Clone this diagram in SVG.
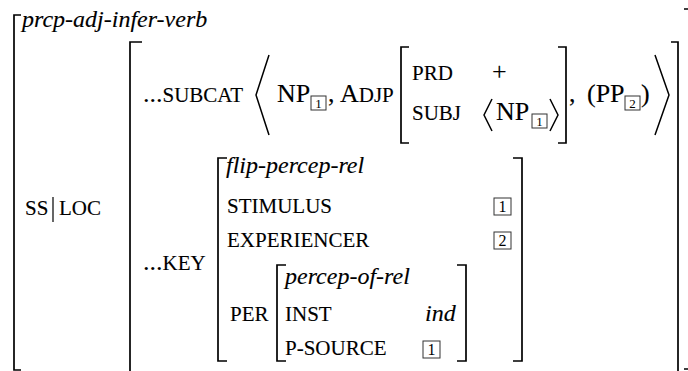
<svg xmlns="http://www.w3.org/2000/svg" width="688" height="371" viewBox="0 0 688 371">
<style>
text,tspan{font-family:"Liberation Serif","Times New Roman",serif;fill:#000;stroke:#000;stroke-width:0.12}
.rm{font-family:"Liberation Serif",serif;font-size:26px}
.sc{font-family:"Liberation Serif",serif;font-size:21px}
.it{font-family:"Liberation Serif",serif;font-size:24px;font-style:italic}
.br{fill:none;stroke:#000;stroke-width:1.7}
.ang{fill:none;stroke:#000;stroke-width:1.5;stroke-linejoin:miter}
.box{fill:none;stroke:#333;stroke-width:1}
.d{font-family:"Liberation Serif",serif;font-size:13px;text-anchor:middle;stroke-width:0}
.dl{font-family:"Liberation Serif",serif;font-size:16px;text-anchor:middle;stroke-width:0}
</style>
<g id="connectors">
<path class="br" d="M21,15 H14 V370 H21"/>
<path class="br" d="M684,9 H689.5 V369 H684"/>
</g>
<g id="root">
<text class="it" x="22" y="27">prcp-adj-infer-verb</text>
</g>
<g id="sslocLabel">
<text class="sc" x="25" y="215">SS</text>
<line x1="53" y1="197" x2="53" y2="222" stroke="#000" stroke-width="1.2"/>
<text class="sc" x="59" y="215">LOC</text>
</g>
<g id="loc">
<path class="br" d="M142,42 H130 V372"/>
<path class="br" d="M671,42 H678 V372"/>
</g>
<g id="subcat">
<text class="rm" x="143" y="102">...<tspan class="sc">SUBCAT</tspan></text>
<polyline class="ang" points="269,55 256,95 269,135"/>
<text class="rm" x="277" y="102">NP</text>
<rect class="box" x="311" y="96" width="15" height="14"/>
<text class="d" x="318.5" y="108">1</text>
<text class="rm" x="328" y="102">,</text>
<text class="rm" x="340" y="102">A<tspan class="sc">DJP</tspan></text>
<polyline class="ang" points="655,55 669,95 655,135"/>
<text class="rm" x="569" y="102">,</text>
<text class="rm" x="587" y="102">(PP</text>
<rect class="box" x="625" y="96" width="15" height="14"/>
<text class="d" x="632.5" y="108">2</text>
<text class="rm" x="641" y="102">)</text>
</g>
<g id="adjp">
<path class="br" d="M409,47 H401 V143 H409"/>
<path class="br" d="M558,47 H566 V143 H558"/>
<text class="sc" x="412" y="80">PRD</text>
<text class="rm" x="492" y="80">+</text>
<text class="sc" x="412" y="120">SUBJ</text>
<polyline class="ang" points="492,99 484,115 492,131"/>
<text class="rm" x="496" y="120">NP</text>
<rect class="box" x="532" y="114" width="15" height="14"/>
<text class="d" x="539.5" y="126">1</text>
<polyline class="ang" points="550,99 558,115 550,131"/>
</g>
<g id="keyLabel">
<text class="rm" x="143" y="270">...<tspan class="sc">KEY</tspan></text>
</g>
<g id="flipPercepRel">
<path class="br" d="M227,158 H218 V361 H227"/>
<path class="br" d="M513,158 H522 V361 H513"/>
<text class="it" x="226" y="173">flip-percep-rel</text>
<text class="sc" x="227" y="213">STIMULUS</text>
<rect class="box" x="494" y="198" width="17" height="17"/>
<text class="dl" x="502.5" y="212">1</text>
<text class="sc" x="227" y="247">EXPERIENCER</text>
<rect class="box" x="494" y="232" width="17" height="17"/>
<text class="dl" x="502.5" y="246">2</text>
<text class="sc" x="230" y="321">PER</text>
</g>
<g id="percepOfRel">
<path class="br" d="M286,265 H277 V361 H286"/>
<path class="br" d="M457,265 H466 V361 H457"/>
<text class="it" x="285" y="284">percep-of-rel</text>
<text class="sc" x="285" y="321">INST</text>
<text class="it" x="425" y="321">ind</text>
<text class="sc" x="285" y="355">P-SOURCE</text>
<rect class="box" x="423" y="341" width="17" height="17"/>
<text class="dl" x="431.5" y="355">1</text>
</g>
</svg>
